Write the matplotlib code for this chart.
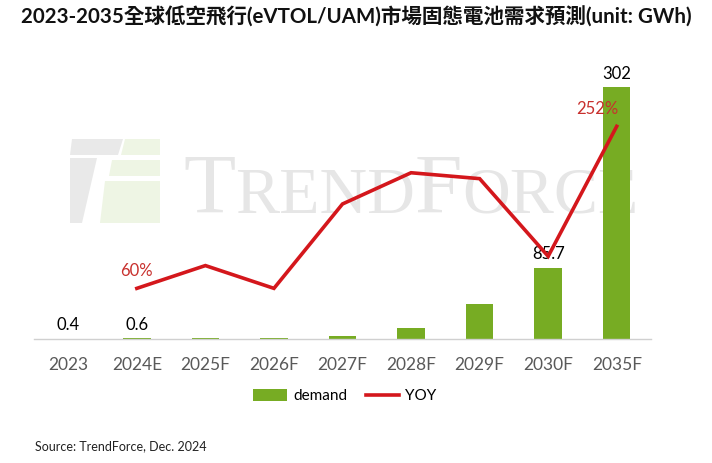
import matplotlib
matplotlib.use("Agg")
import matplotlib.pyplot as plt
from matplotlib.patches import Patch, Polygon
from matplotlib.lines import Line2D

plt.rcParams['font.family'] = ['Lato', 'Noto Sans CJK TC', 'DejaVu Sans']

categories = ["2023", "2024E", "2025F", "2026F", "2027F", "2028F", "2029F", "2030F", "2035F"]
demand = [0.4, 0.6, 0.7, 1.3, 3.0, 13.0, 42.0, 85.7, 302.0]
yoy = [None, 60, 87, 60, 160, 197, 190, 98, 252]
demand_labels = {0: "0.4", 1: "0.6", 7: "85.7", 8: "302"}
yoy_labels = {1: "60%", 8: "252%"}

title = "2023-2035全球低空飛行(eVTOL/UAM)市場固態電池需求預測(unit: GWh)"
source = "Source: TrendForce, Dec. 2024"

bar_color = "#77ac23"
line_color = "#d4171c"
label_red = "#c8302d"

fig = plt.figure(figsize=(7.12, 4.63), dpi=100)
W, H = 712, 463
left, right, bottom, top = 34, 651, 339, 60

# watermark (background)
def P(px, py):
    return (px / W, 1 - py / H)

def poly(pts, color):
    fig.patches.append(Polygon([P(*p) for p in pts], closed=True, facecolor=color,
                               edgecolor='none', transform=fig.transFigure, zorder=-2))

wm_gray = '#e9e9e9'
wm_green = '#eef5e4'
poly([(72, 139), (123, 139), (118, 155), (70, 155)], wm_gray)
poly([(70, 158), (97, 158), (82, 223), (70, 223)], wm_gray)
poly([(125, 139), (160, 139), (160, 155), (121, 155)], wm_green)
poly([(112, 160), (160, 160), (160, 176), (109, 176)], wm_green)
poly([(105, 181), (160, 181), (160, 223), (100, 223)], wm_green)
renderer = fig.canvas.get_renderer()
xcur = 183
for piece, fs in [("T", 61.5), ("REND", 47.5), ("F", 61.5), ("ORCE", 47.5)]:
    t = fig.text(xcur / W, 1 - 213 / H, piece, ha='left', va='baseline', fontsize=fs,
                 color='#e6e6e6', family='Liberation Serif', zorder=-2)
    bb = t.get_window_extent(renderer)
    xcur += bb.width

ax = fig.add_axes([left / W, 1 - bottom / H, (right - left) / W, (bottom - top) / H])
ax.patch.set_alpha(0)
ax2 = ax.twinx()

x = list(range(len(categories)))
ax.bar(x, demand, width=0.4, color=bar_color, zorder=2)
ax.set_xlim(-0.5, len(categories) - 0.5)
ax.set_ylim(0, 334.5)
ax2.set_ylim(0, 330.6)

yx = [i for i, v in enumerate(yoy) if v is not None]
yv = [v for v in yoy if v is not None]
ax2.plot(yx, yv, color=line_color, lw=2.6, solid_joinstyle='miter', zorder=3)

for i, t in demand_labels.items():
    ax.annotate(t, (i, demand[i]), xytext=(0, 4), textcoords='offset points',
                ha='center', va='bottom', fontsize=12, color='black', zorder=5)
for i, t in yoy_labels.items():
    dx = 0 if i != 8 else -14
    ax2.annotate(t, (i, yoy[i]), xytext=(dx, 7), textcoords='offset points',
                 ha='center', va='bottom', fontsize=12, color=label_red, zorder=5)

for a in (ax, ax2):
    for s in a.spines.values():
        s.set_visible(False)
    a.set_yticks([])
ax.spines['bottom'].set_visible(True)
ax.spines['bottom'].set_color('#d0d0d0')
ax.spines['bottom'].set_linewidth(1)
ax.set_xticks(x)
ax.set_xticklabels(categories, fontsize=12.5, color='#595959')
ax.tick_params(axis='x', length=0, pad=13)
ax2.tick_params(axis='both', length=0)

fig.text(0.5, 1 - 17 / H, title, ha='center', va='center', fontsize=14.8,
         fontweight='bold', color='#111111')

handles = [Patch(facecolor=bar_color, edgecolor='none'),
           Line2D([0], [0], color=line_color, lw=2.6)]
fig.legend(handles, ["demand", "YOY"], loc='center', bbox_to_anchor=(345 / W, 1 - 396 / H),
           ncol=2, frameon=False, fontsize=11, handlelength=2.2, handleheight=0.8,
           columnspacing=1.2, handletextpad=0.4)

fig.text(35 / W, 1 - 446 / H, source, ha='left', va='center', fontsize=9, color='#222222')

fig.savefig("out.png", dpi=100)
